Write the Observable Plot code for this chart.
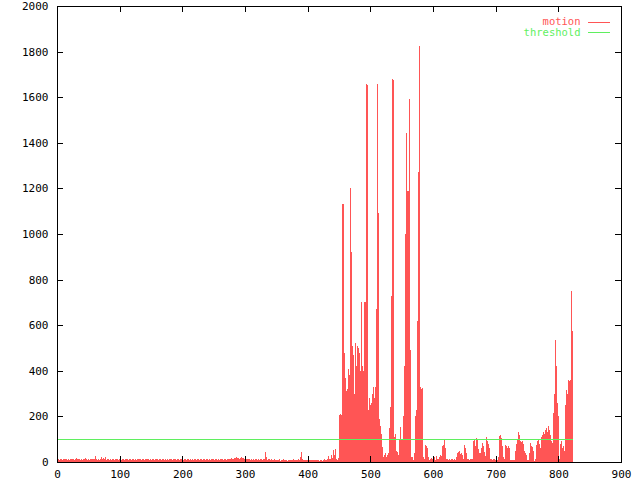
<!DOCTYPE html>
<html>
<head>
<meta charset="utf-8">
<script src="https://cdn.jsdelivr.net/npm/d3@7"></script>
<script src="https://cdn.jsdelivr.net/npm/@observablehq/plot@0.6"></script>
<style>
html,body{margin:0;padding:0;background:#fff;}
</style>
</head>
<body>
<div id="chart"></div>
<script>
// motion values, in segments of 50 keyed by starting frame index
const seg0   = [8,12,10,9,14,11,10,13,9,12,10,11,8,13,10,12,9,11,14,10,12,9,11,10,13,8,12,10,11,9,18,10,12,9,11,13,10,8,12,11,10,14,9,12,16,10,11,13,9,12];
const seg50  = [11,9,13,10,12,8,11,14,10,12,26,9,11,10,8,12,10,9,13,11,7,20,12,18,9,11,20,13,10,8,12,9,11,10,12,14,9,11,8,10,12,9,10,11,13,8,12,10,9,11];
const seg100 = [10,12,9,11,8,13,10,9,12,10,11,8,12,10,9,13,11,10,8,12,14,9,11,10,12,8,10,13,9,11,10,12,8,11,9,10,13,12,9,10,11,8,12,10,14,9,11,10,8,12];
const seg150 = [10,9,12,11,8,10,13,9,11,10,12,8,10,11,9,13,10,12,8,11,9,10,12,14,8,11,10,9,13,10,12,8,11,10,9,12,10,13,8,11,10,9,12,11,8,10,12,9,11,10];
const seg200 = [13,8,11,10,12,9,10,11,8,12,10,9,13,11,8,10,12,9,11,10,8,12,10,9,11,13,8,10,12,9,11,10,8,12,9,11,10,13,8,10,12,9,11,10,8,12,10,9,11,13];
const seg250 = [8,10,12,9,11,10,8,13,10,9,12,11,8,10,12,9,11,10,13,8,10,12,9,11,10,14,12,16,11,13,10,15,18,12,17,14,20,13,16,19,12,15,18,22,14,17,13,19,15,12];
const seg300 = [11,14,10,12,9,11,13,10,8,12,10,9,11,12,8,10,13,9,11,10,12,8,10,9,11,13,10,8,12,14,9,11,44,20,10,8,12,9,11,10,8,9,11,7,10,8,12,9,7,10];
const seg350 = [8,10,7,9,11,8,6,10,9,7,8,11,9,7,10,8,9,6,10,8,7,9,8,10,6,9,11,8,7,9,10,8,7,9,12,8,10,14,20,18,44,12,8,10,7,9,6,8,10,7];
const seg400 = [9,8,7,10,6,8,9,7,10,8,7,9,6,8,10,7,9,8,6,10,8,7,9,6,10,8,12,9,7,10,8,12,9,25,14,15,10,12,29,18,14,51,30,56,22,12,15,10,18,14];
const seg450 = [206,200,210,205,490,1130,1125,1130,480,370,365,310,320,290,300,410,380,1200,1195,920,440,510,400,470,300,380,520,420,510,360,500,300,480,350,400,700,380,420,360,400,700,380,700,1660,1655,160,230,200,280,250];
const seg500 = [220,260,300,240,330,320,280,300,330,670,1660,1655,1090,220,190,160,140,125,67,40,23,15,30,10,38,20,30,25,40,96,150,242,200,730,300,1680,1675,67,110,66,124,50,23,45,30,100,60,155,130,96];
const seg550 = [70,96,200,330,420,830,1000,1444,1190,1113,1190,1592,1180,490,270,20,15,23,10,18,40,155,200,228,160,620,1273,1270,1825,330,323,320,323,60,23,10,15,8,73,70,60,12,20,10,8,15,10,19,15,12];
const seg600 = [12,20,15,8,10,25,12,8,15,20,10,30,28,25,70,65,75,96,80,60,12,10,15,12,8,10,14,9,11,8,10,12,9,11,10,8,20,15,38,30,45,42,50,35,40,25,30,20,15,57];
const seg650 = [75,60,40,35,12,10,15,8,10,12,9,14,10,12,92,100,85,70,65,107,95,60,55,40,30,38,45,60,82,70,55,45,30,25,108,100,90,80,75,60,40,15,10,12,8,10,13,9,11,10];
const seg700 = [8,12,10,15,20,111,115,118,105,90,70,20,15,10,15,75,70,65,60,72,65,60,40,10,8,5,8,6,10,5,8,48,60,80,100,133,128,120,95,90,85,88,90,80,70,48,45,40,30,8];
const seg750 = [10,6,8,38,82,60,55,70,65,50,10,5,8,15,20,75,90,97,85,80,60,25,30,110,120,115,130,125,140,120,135,150,130,145,158,140,120,97,90,85,82,95,213,300,400,535,420,155,260,200];
const seg800 = [25,15,80,60,90,85,60,45,70,50,213,250,315,280,300,310,360,355,340,360,750,575,575];

const segments = [[0,seg0],[50,seg50],[100,seg100],[150,seg150],[200,seg200],[250,seg250],[300,seg300],[350,seg350],[400,seg400],[450,seg450],[500,seg500],[550,seg550],[600,seg600],[650,seg650],[700,seg700],[750,seg750],[800,seg800]];

const thresholdValue = 100;
const seriesNames = ["motion", "threshold"];
const xTicks = [0,100,200,300,400,500,600,700,800,900];
const yTicks = [0,200,400,600,800,1000,1200,1400,1600,1800,2000];

const motion = [];
for (const [start, vals] of segments) vals.forEach((v, i) => motion.push({x: start + i, v}));

const RED = "#ff5555";
const GREEN = "#5fef5f";
const W = 640, H = 480;
const mL = 57, mR = 19, mT = 6, mB = 18;
const pw = W - mL - mR, ph = H - mT - mB;
const tick = 6;

const chart = Plot.plot({
  width: W,
  height: H,
  marginLeft: mL,
  marginRight: mR,
  marginTop: mT,
  marginBottom: mB,
  style: {fontFamily: "'DejaVu Sans Mono', monospace", fontSize: "11px", background: "#fff", color: "#000"},
  x: {domain: [0, 900], axis: null},
  y: {domain: [0, 2000], axis: null},
  marks: [
    Plot.ruleX(motion, {x: "x", y1: 0, y2: "v", stroke: RED, strokeWidth: 1, shapeRendering: "crispEdges"}),
    Plot.lineY(motion, {x: "x", y: () => thresholdValue, stroke: GREEN, strokeWidth: 1, shapeRendering: "crispEdges"}),
    // ticks (inward, mirrored like gnuplot)
    Plot.tickX(xTicks, {x: d => d, insetTop: ph - tick, stroke: "#000", shapeRendering: "crispEdges"}),
    Plot.tickX(xTicks, {x: d => d, insetBottom: ph - tick, stroke: "#000", shapeRendering: "crispEdges"}),
    Plot.tickY(yTicks, {y: d => d, insetRight: pw - tick, stroke: "#000", shapeRendering: "crispEdges"}),
    Plot.tickY(yTicks, {y: d => d, insetLeft: pw - tick, stroke: "#000", shapeRendering: "crispEdges"}),
    Plot.frame({stroke: "#000", shapeRendering: "crispEdges"}),
    // tick labels
    Plot.text(xTicks, {x: d => d, text: d => String(d), frameAnchor: "bottom", dy: 12, lineAnchor: "middle", fill: "#000"}),
    Plot.text(yTicks, {y: d => d, text: d => String(d), frameAnchor: "left", dx: -9, textAnchor: "end", lineAnchor: "middle", fill: "#000"}),
    // legend
    Plot.text([seriesNames[0]], {text: d => d, frameAnchor: "top-right", dx: -41, dy: 15, textAnchor: "end", lineAnchor: "middle", fontSize: 10.5, fill: RED}),
    Plot.text([seriesNames[1]], {text: d => d, frameAnchor: "top-right", dx: -41, dy: 26.5, textAnchor: "end", lineAnchor: "middle", fontSize: 10.5, fill: GREEN}),
    Plot.tickY([2000], {y: d => d, insetLeft: 531, insetRight: 11, dy: 16, stroke: RED, shapeRendering: "crispEdges"}),
    Plot.tickY([2000], {y: d => d, insetLeft: 531, insetRight: 11, dy: 26, stroke: GREEN, shapeRendering: "crispEdges"})
  ]
});
document.getElementById("chart").appendChild(chart);
</script>
</body>
</html>
